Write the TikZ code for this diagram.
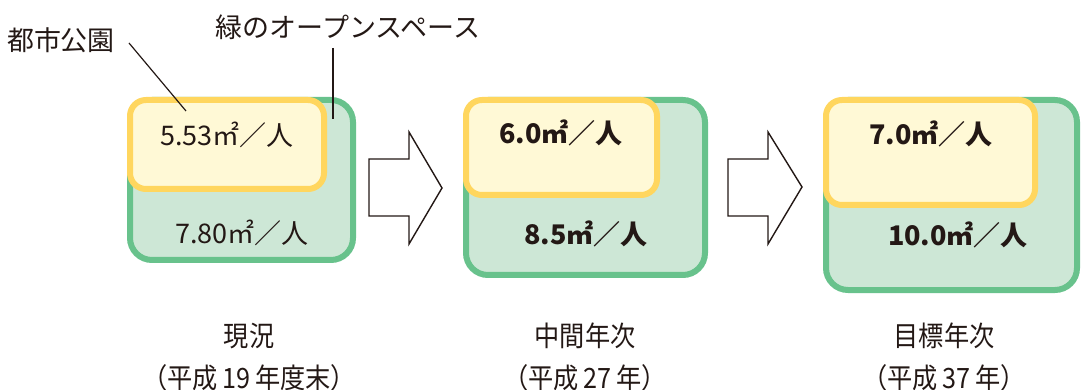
\documentclass[tikz,border=0pt]{standalone}
\usepackage{fontspec}
\setmainfont{Noto Sans CJK JP}
\newfontfamily\jpfont{Noto Sans CJK JP}
\newfontfamily\jpcond[FakeStretch=0.9]{Noto Sans CJK JP}
\definecolor{gstroke}{RGB}{104,194,140}
\definecolor{gfill}{RGB}{205,231,214}
\definecolor{ystroke}{RGB}{255,214,94}
\definecolor{yfill}{RGB}{255,249,214}
\definecolor{ink}{RGB}{35,24,21}
\tikzset{
  greenbox/.style={draw=gstroke, fill=gfill, line width=6pt, rounded corners=22pt},
  yellowbox/.style={draw=ystroke, fill=yfill, line width=6pt, rounded corners=16pt},
  bigarrow/.style={draw=ink, fill=white, line width=1.4pt, line join=miter},
  leader/.style={draw=ink, line width=1.2pt},
  toplabel/.style={text=ink, inner sep=0pt, font=\jpfont\fontsize{27pt}{30pt}\selectfont},
  valnorm/.style={text=ink, inner sep=0pt, font=\jpfont\fontsize{27pt}{30pt}\selectfont},
  valbold/.style={text=ink, inner sep=0pt, font=\jpfont\bfseries\fontsize{27pt}{30pt}\selectfont},
  botlabel/.style={text=ink, inner sep=0pt, font=\jpcond\fontsize{28pt}{30pt}\selectfont}
}
\begin{document}
\begin{tikzpicture}[x=1pt,y=-1pt]
\useasboundingbox (0,0) rectangle (1082,390);
% boxes
\path[greenbox] (130,100) rectangle (353,260);
\path[yellowbox] (130,100) rectangle (324,189);
\path[greenbox] (466,100) rectangle (705,275);
\path[yellowbox] (466,100) rectangle (657,195);
\path[greenbox] (826,100) rectangle (1077,290);
\path[yellowbox] (826,100) rectangle (1035,205);
% arrows
\path[bigarrow] (369,159) -- (409,159) -- (409,132) -- (442,188) -- (409,244) -- (409,216) -- (369,216) -- cycle;
\path[bigarrow] (728,159) -- (768,159) -- (768,132) -- (802,187) -- (768,244) -- (768,216) -- (728,216) -- cycle;
% top labels and leaders
\node[toplabel] (park) at (61,40) {都市公園};
\node[toplabel] (open) at (348,27) {緑のオープンスペース};
\coordinate (parkA) at (129,43);
\coordinate (parkB) at (186,111);
\coordinate (openA) at (333,48);
\coordinate (openB) at (333,119);
\draw[leader] (parkA) -- (parkB);
\draw[leader] (openA) -- (openB);
% values
\node[valnorm] (v1a) at (227,135) {5.53㎡／人};
\node[valnorm] (v1b) at (242,233) {7.80㎡／人};
\node[valbold] (v2a) at (561,133) {6.0㎡／人};
\node[valbold] (v2b) at (586,234) {8.5㎡／人};
\node[valbold] (v3a) at (931,134) {7.0㎡／人};
\node[valbold] (v3b) at (958,235) {10.0㎡／人};
% bottom labels
\node[botlabel] (l1a) at (249,336) {現況};
\node[botlabel] (l1b) at (249,378) {（平成\,19\,年度末）};
\node[botlabel] (l2a) at (585,336) {中間年次};
\node[botlabel] (l2b) at (585,378) {（平成\,27\,年）};
\node[botlabel] (l3a) at (944,336) {目標年次};
\node[botlabel] (l3b) at (944,378) {（平成\,37\,年）};
\end{tikzpicture}
\end{document}
